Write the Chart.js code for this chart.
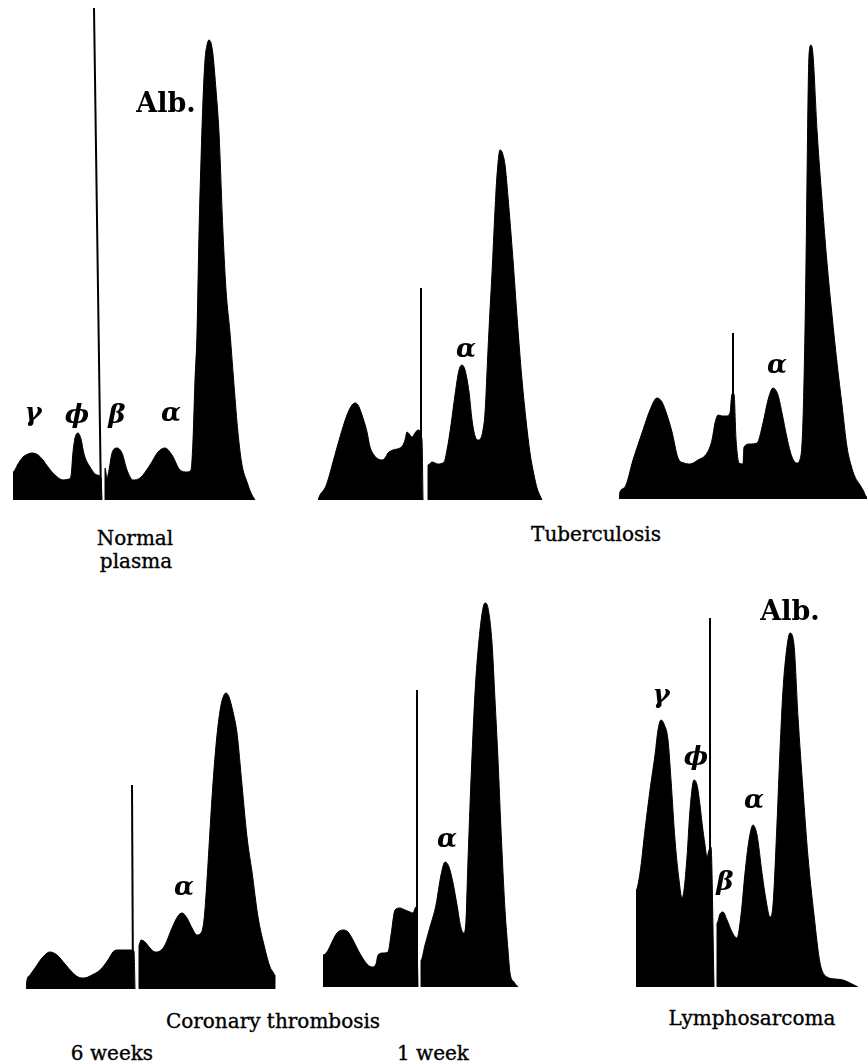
<!DOCTYPE html>
<html>
<head>
<meta charset="utf-8">
<script src="https://cdn.jsdelivr.net/npm/chart.js@4/dist/chart.umd.min.js"></script>
<style>
  html, body { margin: 0; padding: 0; background: #fff; }
  #page { position: relative; width: 867px; height: 1063px; overflow: hidden; background: #fff; }
  .panel { position: absolute; }
  .lbl { position: absolute; white-space: nowrap; line-height: 1; color: #000; transform: translateX(-50%); }
  .cap { font-family: "DejaVu Serif", serif; font-size: 20px; -webkit-text-stroke: 0.35px #000; }
  .greek { font-family: "DejaVu Serif", serif; font-weight: bold; font-style: italic; font-size: 26px; }
  .alb { font-family: "DejaVu Serif", serif; font-weight: bold; font-size: 27px; }
</style>
</head>
<body>
<div id="page"></div>
<script>
// Electrophoretic boundary patterns: [position along the cell, deflection above baseline].
// Each pattern has a slow (descending limb) part, a fast part and the starting boundary mark.

// Normal plasma
const normalSlow = [[0,0],[0,28],[5,36],[10,43],[15,46],[19,47],[25,45],[30,40],[35,33],[42,25],[50,20],[56,21],[58,24],[60,48],[62,62],[65,67],[68,61],[71,46],[77,33],[84,25],[88,22],[89,0]];
const normalFast = [[92,0],[92,32],[94,22],[96,30],[99,47],[104,52],[109,47],[114,30],[120,20],[127,22],[137,35],[145,48],[152,52],[159,45],[167,30],[174,28],[178,30],[180,60],[182,120],[184,167],[186,267],[188,340],[190,400],[192,440],[194,455],[196,460],[198,457],[200,445],[203,410],[206,367],[210,267],[213,210],[217,167],[221,115],[225,67],[229,35],[234,18],[238,7],[242,0]];
const normalBoundary = [[81,492],[88,0]];

// Tuberculosis, first pattern
const tbASlow = [[0,0],[2,5],[7,12],[10,20],[15,38],[22,63],[29,85],[34,95],[37,97],[40,95],[44,85],[49,68],[52,53],[56,45],[60,41],[64,40],[67,42],[70,47],[75,50],[82,52],[85,55],[87,60],[89,68],[92,65],[94,63],[97,67],[100,70],[104,60],[105,0]];
const tbAFast = [[110,0],[110,35],[114,38],[120,36],[126,38],[129,50],[133,75],[137,105],[141,130],[144,135],[147,130],[151,108],[154,80],[157,64],[160,60],[163,62],[165,70],[167,87],[170,150],[172,190],[174,227],[177,290],[179,325],[182,350],[184,348],[187,335],[190,303],[195,240],[200,170],[204,120],[208,80],[212,47],[216,25],[219,12],[224,0]];
const tbABoundary = [[103,212],[103,0]];

// Tuberculosis, second pattern
const tbBWhole = [[0,0],[1,7],[6,12],[14,39],[24,69],[31,89],[38,101],[43,97],[48,84],[53,67],[59,41],[65,36],[71,35],[79,39],[88,46],[93,59],[96,76],[99,84],[103,83],[107,83],[111,86],[113,105],[115,105],[117,60],[120,36],[124,35],[125,52],[131,55],[138,56],[144,76],[149,99],[154,111],[159,104],[163,86],[168,61],[173,42],[178,36],[182,44],[184,79],[186,169],[187,236],[188,319],[189,399],[190,444],[192,454],[194,444],[198,369],[203,299],[208,236],[213,184],[218,136],[223,94],[228,52],[232,34],[236,22],[241,14],[244,9],[248,2],[248,0]];
const tbBBoundary = [[114,166],[114,0]];

// Coronary thrombosis, 6 weeks
const cor6Slow = [[0,0],[1,9],[4,14],[9,21],[16,31],[24,37],[31,34],[39,25],[46,17],[52,12],[58,11],[66,14],[74,19],[82,29],[87,37],[91,39],[97,39],[104,39],[108,38],[109,0]];
const cor6Fast = [[113,0],[113,44],[115,49],[119,47],[124,41],[129,37],[134,38],[139,44],[146,61],[152,73],[156,76],[161,71],[166,61],[171,54],[175,56],[178,69],[181,109],[184,159],[187,206],[191,254],[195,284],[198,294],[200,296],[203,292],[207,277],[211,256],[216,204],[221,152],[226,117],[232,72],[238,44],[244,22],[247,17],[249,14],[249,0]];
const cor6Boundary = [[106,204],[107,0]];

// Coronary thrombosis, 1 week
const cor1Slow = [[0,0],[0,32],[4,35],[9,45],[14,54],[20,57],[25,55],[30,47],[35,37],[39,30],[44,23],[49,20],[53,23],[55,32],[60,34],[65,35],[68,52],[72,77],[77,79],[82,77],[87,75],[90,74],[93,80],[95,0]];
const cor1Fast = [[98,0],[98,27],[102,42],[107,60],[113,82],[118,112],[122,125],[126,120],[130,104],[134,82],[138,59],[141,54],[143,67],[145,127],[148,207],[152,294],[156,347],[160,379],[162,384],[165,379],[169,344],[172,287],[175,227],[178,157],[182,77],[185,37],[187,14],[191,5],[195,0]];
const cor1Boundary = [[94,297],[94,0]];

// Lymphosarcoma
const lymSlow = [[0,0],[0,97],[4,114],[9,157],[14,197],[19,232],[22,257],[25,267],[28,263],[32,247],[35,207],[39,147],[43,107],[46,89],[48,97],[51,130],[54,177],[58,207],[61,202],[64,182],[66,164],[69,142],[71,130],[73,137],[75,140],[78,0]];
const lymFast = [[81,0],[81,64],[84,73],[87,75],[91,67],[96,55],[101,49],[105,72],[109,114],[113,147],[117,162],[121,152],[126,114],[130,87],[134,70],[137,82],[141,164],[144,237],[147,297],[150,332],[154,354],[158,342],[162,270],[167,197],[172,130],[178,72],[184,24],[191,10],[199,8],[207,7],[214,4],[222,0]];
const lymBoundary = [[74,369],[74,0]];

// Component names and captions
const componentNames = ["γ", "ϕ", "β", "α", "Alb."];
const captions = ["Normal", "plasma", "Tuberculosis", "Coronary thrombosis", "6 weeks", "1 week", "Lymphosarcoma"];

// Placement of each pattern on the page (left edge, baseline, drawing width/height)
const layout = [
  { fills: [normalSlow, normalFast], boundary: normalBoundary, left: 13,  base: 500, w: 246, h: 500 },
  { fills: [tbASlow, tbAFast],       boundary: tbABoundary,    left: 318, base: 500, w: 226, h: 360 },
  { fills: [tbBWhole],               boundary: tbBBoundary,    left: 619, base: 499, w: 249, h: 470 },
  { fills: [cor6Slow, cor6Fast],     boundary: cor6Boundary,   left: 26,  base: 989, w: 251, h: 320 },
  { fills: [cor1Slow, cor1Fast],     boundary: cor1Boundary,   left: 323, base: 987, w: 197, h: 400 },
  { fills: [lymSlow, lymFast],       boundary: lymBoundary,    left: 636, base: 987, w: 224, h: 380 }
];

const page = document.getElementById('page');
const toXY = arr => arr.map(p => ({ x: p[0], y: p[1] }));

layout.forEach((p, i) => {
  const canvas = document.createElement('canvas');
  canvas.className = 'panel';
  canvas.width = p.w; canvas.height = p.h;
  canvas.style.left = p.left + 'px';
  canvas.style.top = (p.base - p.h) + 'px';
  canvas.style.width = p.w + 'px';
  canvas.style.height = p.h + 'px';
  page.appendChild(canvas);

  const datasets = p.fills.map(f => ({
    data: toXY(f),
    fill: 'origin',
    backgroundColor: '#000',
    borderColor: '#000',
    borderWidth: 1,
    pointRadius: 0,
    cubicInterpolationMode: 'monotone'
  }));
  datasets.push({
    data: toXY(p.boundary),
    fill: false,
    borderColor: '#000',
    borderWidth: 2,
    pointRadius: 0,
    tension: 0
  });

  new Chart(canvas, {
    type: 'line',
    data: { datasets },
    options: {
      responsive: false,
      animation: false,
      devicePixelRatio: 1,
      layout: { padding: 0 },
      plugins: { legend: { display: false }, tooltip: { enabled: false }, title: { display: false } },
      scales: {
        x: { type: 'linear', min: 0, max: p.w, display: false },
        y: { type: 'linear', min: 0, max: p.h, display: false }
      },
      elements: { line: { capBezierPoints: true } }
    }
  });
});

// Text: [text, class, centre x, baseline y]
const texts = [
  [componentNames[4], 'alb', 166, 112],
  [componentNames[0], 'greek', 33, 421],
  [componentNames[1], 'greek', 77, 423],
  [componentNames[2], 'greek', 117, 423],
  [componentNames[3], 'greek', 171, 421],
  [componentNames[3], 'greek', 466, 357],
  [componentNames[3], 'greek', 777, 373],
  [componentNames[3], 'greek', 184, 895],
  [componentNames[3], 'greek', 447, 847],
  [componentNames[4], 'alb', 790, 620],
  [componentNames[0], 'greek', 661, 703],
  [componentNames[1], 'greek', 696, 765],
  [componentNames[3], 'greek', 754, 808],
  [componentNames[2], 'greek', 725, 890],
  [captions[0], 'cap', 135, 545],
  [captions[1], 'cap', 136, 568],
  [captions[2], 'cap', 596, 541],
  [captions[3], 'cap', 273, 1028],
  [captions[4], 'cap', 112, 1060],
  [captions[5], 'cap', 433, 1060],
  [captions[6], 'cap', 752, 1025]
];
const sizes = { cap: 20, greek: 26, alb: 27 };
texts.forEach(([t, cls, x, y]) => {
  const d = document.createElement('div');
  d.className = 'lbl ' + cls;
  d.textContent = t;
  d.style.left = x + 'px';
  d.style.top = (y - 0.846 * sizes[cls]) + 'px';
  page.appendChild(d);
});
</script>
</body>
</html>
